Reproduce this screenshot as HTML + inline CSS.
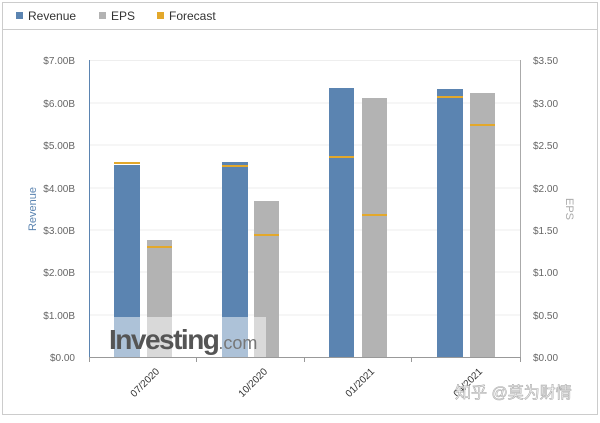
<!DOCTYPE html><html><head><style>body{margin:0;width:600px;height:418px;background:#fff;font-family:"Liberation Sans","Noto Sans CJK SC",sans-serif;overflow:hidden}</style></head><body>
<svg width="600" height="418" xmlns="http://www.w3.org/2000/svg" font-family="Liberation Sans, Noto Sans CJK SC, sans-serif">
<rect x="2.5" y="2.5" width="595" height="412" fill="#fff" stroke="#ccc"/>
<line x1="3" y1="29.5" x2="597" y2="29.5" stroke="#ccc"/>
<rect x="16" y="12" width="7" height="7" fill="#5b84b1"/><text x="28" y="20" font-size="12" fill="#333">Revenue</text>
<rect x="99" y="12" width="7" height="7" fill="#b3b3b3"/><text x="111" y="20" font-size="12" fill="#333">EPS</text>
<rect x="157" y="12" width="7" height="7" fill="#e3a82b"/><text x="169" y="20" font-size="12" fill="#333">Forecast</text>
<g stroke="#eee">
<line x1="89" y1="60.5" x2="520" y2="60.5"/><line x1="89" y1="103" x2="520" y2="103"/><line x1="89" y1="145" x2="520" y2="145"/><line x1="89" y1="188" x2="520" y2="188"/><line x1="89" y1="230" x2="520" y2="230"/><line x1="89" y1="272" x2="520" y2="272"/><line x1="89" y1="315" x2="520" y2="315"/></g>
<g font-size="10" fill="#666" text-anchor="end">
<text x="75" y="64">$7.00B</text><text x="75" y="107">$6.00B</text><text x="75" y="149">$5.00B</text><text x="75" y="192">$4.00B</text><text x="75" y="234">$3.00B</text><text x="75" y="276">$2.00B</text><text x="75" y="319">$1.00B</text><text x="75" y="361">$0.00</text></g>
<g font-size="10" fill="#666">
<text x="533" y="64">$3.50</text><text x="533" y="107">$3.00</text><text x="533" y="149">$2.50</text><text x="533" y="192">$2.00</text><text x="533" y="234">$1.50</text><text x="533" y="276">$1.00</text><text x="533" y="319">$0.50</text><text x="533" y="361">$0.00</text></g>
<text transform="translate(36,209) rotate(-90)" font-size="11" fill="#5b84b1" text-anchor="middle">Revenue</text>
<text transform="translate(566,209) rotate(90)" font-size="11" fill="#aaa" text-anchor="middle">EPS</text>
<g fill="#5b84b1"><rect x="114" y="165" width="26" height="192"/><rect x="222" y="162" width="26" height="195"/><rect x="329" y="88" width="25" height="269"/><rect x="437" y="89" width="26" height="268"/></g>
<g fill="#b3b3b3"><rect x="147" y="240" width="25" height="117"/><rect x="254" y="201" width="25" height="156"/><rect x="362" y="98" width="25" height="259"/><rect x="470" y="93" width="25" height="264"/></g>
<g stroke="#e3a82b" stroke-width="2"><line x1="114" y1="163" x2="140" y2="163"/><line x1="222" y1="166" x2="248" y2="166"/><line x1="329" y1="157" x2="354" y2="157"/><line x1="437" y1="97" x2="463" y2="97"/>
<line x1="147" y1="247" x2="172" y2="247"/><line x1="254" y1="235" x2="279" y2="235"/><line x1="362" y1="215" x2="387" y2="215"/><line x1="470" y1="125" x2="495" y2="125"/></g>
<line x1="89.5" y1="60" x2="89.5" y2="358" stroke="#5b84b1"/>
<line x1="520.5" y1="60" x2="520.5" y2="358" stroke="#aaa"/>
<line x1="89" y1="357.5" x2="520" y2="357.5" stroke="#999"/>
<g stroke="#999"><line x1="89.5" y1="357" x2="89.5" y2="362"/><line x1="196.5" y1="357" x2="196.5" y2="362"/><line x1="304.5" y1="357" x2="304.5" y2="362"/><line x1="411.5" y1="357" x2="411.5" y2="362"/><line x1="520.5" y1="357" x2="520.5" y2="362"/></g>
<rect x="110" y="317" width="156" height="40" fill="#fff" opacity="0.5"/>
<text x="109" y="349" font-size="28" font-weight="bold" fill="#555" letter-spacing="-1.5">Investing<tspan font-size="18" font-weight="normal" fill="#777" letter-spacing="0">.com</tspan></text>
<g font-size="10" fill="#333" text-anchor="end">
<text transform="translate(160,372) rotate(-45)">07/2020</text><text transform="translate(268,372) rotate(-45)">10/2020</text><text transform="translate(375,372) rotate(-45)">01/2021</text><text transform="translate(483,372) rotate(-45)">04/2021</text></g>
<text x="455" y="398" font-size="16" fill="#fff" stroke="#aaa" stroke-width="0.6">知乎 @莫为财情</text>
</svg></body></html>
